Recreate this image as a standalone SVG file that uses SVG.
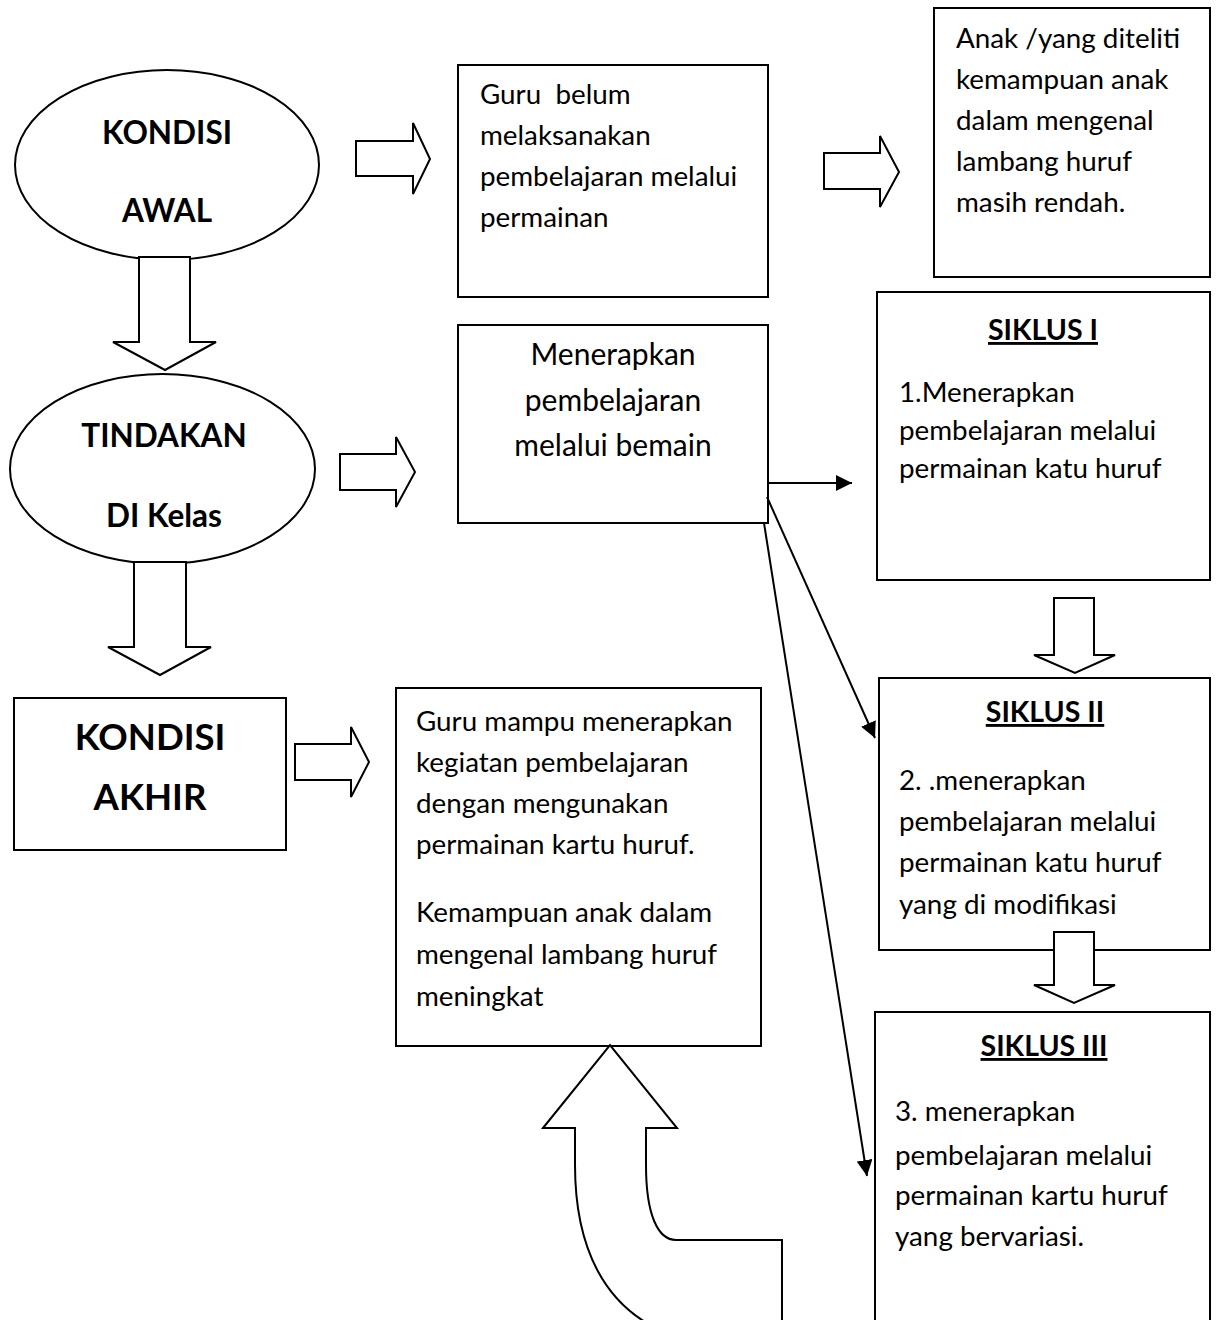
<svg xmlns="http://www.w3.org/2000/svg" width="1216" height="1320" viewBox="0 0 1216 1320">
<style>
.s{fill:#fff;stroke:#000;stroke-width:2}
.ln{fill:none;stroke:#000;stroke-width:2}
text{font-family:Lato,"Open Sans","Liberation Sans",sans-serif;fill:#000}
.t{font-size:27.8px}
.tb{font-size:31.5px;font-weight:bold}
.tB{font-size:36.5px;font-weight:bold}
.h{font-size:28.5px;font-weight:bold;text-decoration:underline}
.m{font-size:30px}
</style>
<defs>
<marker id="ah" viewBox="0 0 10 10" refX="10" refY="5" markerWidth="16" markerHeight="16" markerUnits="userSpaceOnUse" orient="auto">
<path d="M0,0 L10,5 L0,10 z" fill="#000"/>
</marker>
</defs>
<rect width="1216" height="1320" fill="#fff"/>

<g id="kondisi-awal">
<ellipse class="s" cx="167" cy="165" rx="152" ry="95"/>
<text class="tb" x="167" y="144" text-anchor="middle">KONDISI</text>
<text class="tb" x="167" y="222" text-anchor="middle">AWAL</text>
</g>

<g id="tindakan">
<ellipse class="s" cx="162.5" cy="469" rx="152.5" ry="95"/>
<text class="tb" x="164" y="447" text-anchor="middle">TINDAKAN</text>
<text class="tb" x="164" y="527" text-anchor="middle">DI Kelas</text>
</g>

<g id="kondisi-akhir">
<rect class="s" x="14" y="698" width="272" height="152"/>
<text class="tB" x="150" y="750" text-anchor="middle">KONDISI</text>
<text class="tB" x="150" y="810" text-anchor="middle">AKHIR</text>
</g>

<g id="guru-belum">
<rect class="s" x="458" y="65" width="310" height="232"/>
<text class="t" x="480" y="104" xml:space="preserve">Guru  belum</text>
<text class="t" x="480" y="145">melaksanakan</text>
<text class="t" x="480" y="186">pembelajaran melalui</text>
<text class="t" x="480" y="227">permainan</text>
</g>

<g id="anak">
<rect class="s" x="934" y="8" width="276" height="269"/>
<text class="t" x="956" y="48">Anak /yang diteliti</text>
<text class="t" x="956" y="89">kemampuan anak</text>
<text class="t" x="956" y="130">dalam mengenal</text>
<text class="t" x="956" y="171">lambang huruf</text>
<text class="t" x="956" y="212">masih rendah.</text>
</g>

<g id="menerapkan">
<rect class="s" x="458" y="325" width="310" height="198"/>
<text class="m" x="613" y="365" text-anchor="middle">Menerapkan</text>
<text class="m" x="613" y="411" text-anchor="middle">pembelajaran</text>
<text class="m" x="613" y="456" text-anchor="middle">melalui bemain</text>
</g>

<g id="siklus1">
<rect class="s" x="877" y="292" width="333" height="288"/>
<text class="h" x="1043" y="340" text-anchor="middle">SIKLUS I</text>
<text class="t" x="899" y="402">1.Menerapkan</text>
<text class="t" x="899" y="440">pembelajaran melalui</text>
<text class="t" x="899" y="478">permainan katu huruf</text>
</g>

<g id="siklus2">
<rect class="s" x="879" y="678" width="331" height="272"/>
<text class="h" x="1045" y="722" text-anchor="middle">SIKLUS II</text>
<text class="t" x="899" y="790">2. .menerapkan</text>
<text class="t" x="899" y="831">pembelajaran melalui</text>
<text class="t" x="899" y="872">permainan katu huruf</text>
<text class="t" x="899" y="914">yang di modifikasi</text>
</g>

<g id="siklus3">
<rect class="s" x="875" y="1012" width="335" height="320"/>
<text class="h" x="1044" y="1056" text-anchor="middle">SIKLUS III</text>
<text class="t" x="895" y="1121">3. menerapkan</text>
<text class="t" x="895" y="1165">pembelajaran melalui</text>
<text class="t" x="895" y="1205">permainan kartu huruf</text>
<text class="t" x="895" y="1246">yang bervariasi.</text>
</g>

<g id="guru-mampu">
<rect class="s" x="396" y="688" width="365" height="358"/>
<text class="t" x="416" y="731">Guru mampu menerapkan</text>
<text class="t" x="416" y="772">kegiatan pembelajaran</text>
<text class="t" x="416" y="813">dengan mengunakan</text>
<text class="t" x="416" y="854">permainan kartu huruf.</text>
<text class="t" x="416" y="922">Kemampuan anak dalam</text>
<text class="t" x="416" y="964">mengenal lambang huruf</text>
<text class="t" x="416" y="1006">meningkat</text>
</g>

<g id="connectors">
<path class="s" d="M139,257 L190,257 L190,342 L216,342 L165,370 L113,342 L139,342 Z"/>
<path class="s" d="M134,562 L186,562 L186,647 L211,647 L160,675 L108,647 L134,647 Z"/>
<path class="s" d="M356,141 L413,141 L413,123 L430,159 L413,194 L413,176 L356,176 Z"/>
<path class="s" d="M824,153 L880,153 L880,136 L899,172 L880,207 L880,189 L824,189 Z"/>
<path class="s" d="M340,454 L396,454 L396,437 L415,472 L396,507 L396,490 L340,490 Z"/>
<path class="s" d="M295,744 L351,744 L351,727 L369,762 L351,797 L351,780 L295,780 Z"/>
<path class="s" d="M1054,598 L1094,598 L1094,655 L1115,655 L1075,673 L1034,655 L1054,655 Z"/>
<path class="s" d="M1054,932 L1094,932 L1094,985 L1115,985 L1074,1003 L1034,985 L1054,985 Z"/>
<path class="s" d="M543,1128 L610,1045 L677,1128 L646,1128 L646,1165 C646,1215 658,1240 676,1240 L782,1240 L782,1330 L660,1330 C606,1305 575,1250 575,1165 L575,1128 Z"/>
<line class="ln" x1="768" y1="483" x2="852" y2="483" marker-end="url(#ah)"/>
<line class="ln" x1="767" y1="497" x2="875" y2="738" marker-end="url(#ah)"/>
<line class="ln" x1="764" y1="523" x2="867" y2="1176" marker-end="url(#ah)"/>
</g>
</svg>
